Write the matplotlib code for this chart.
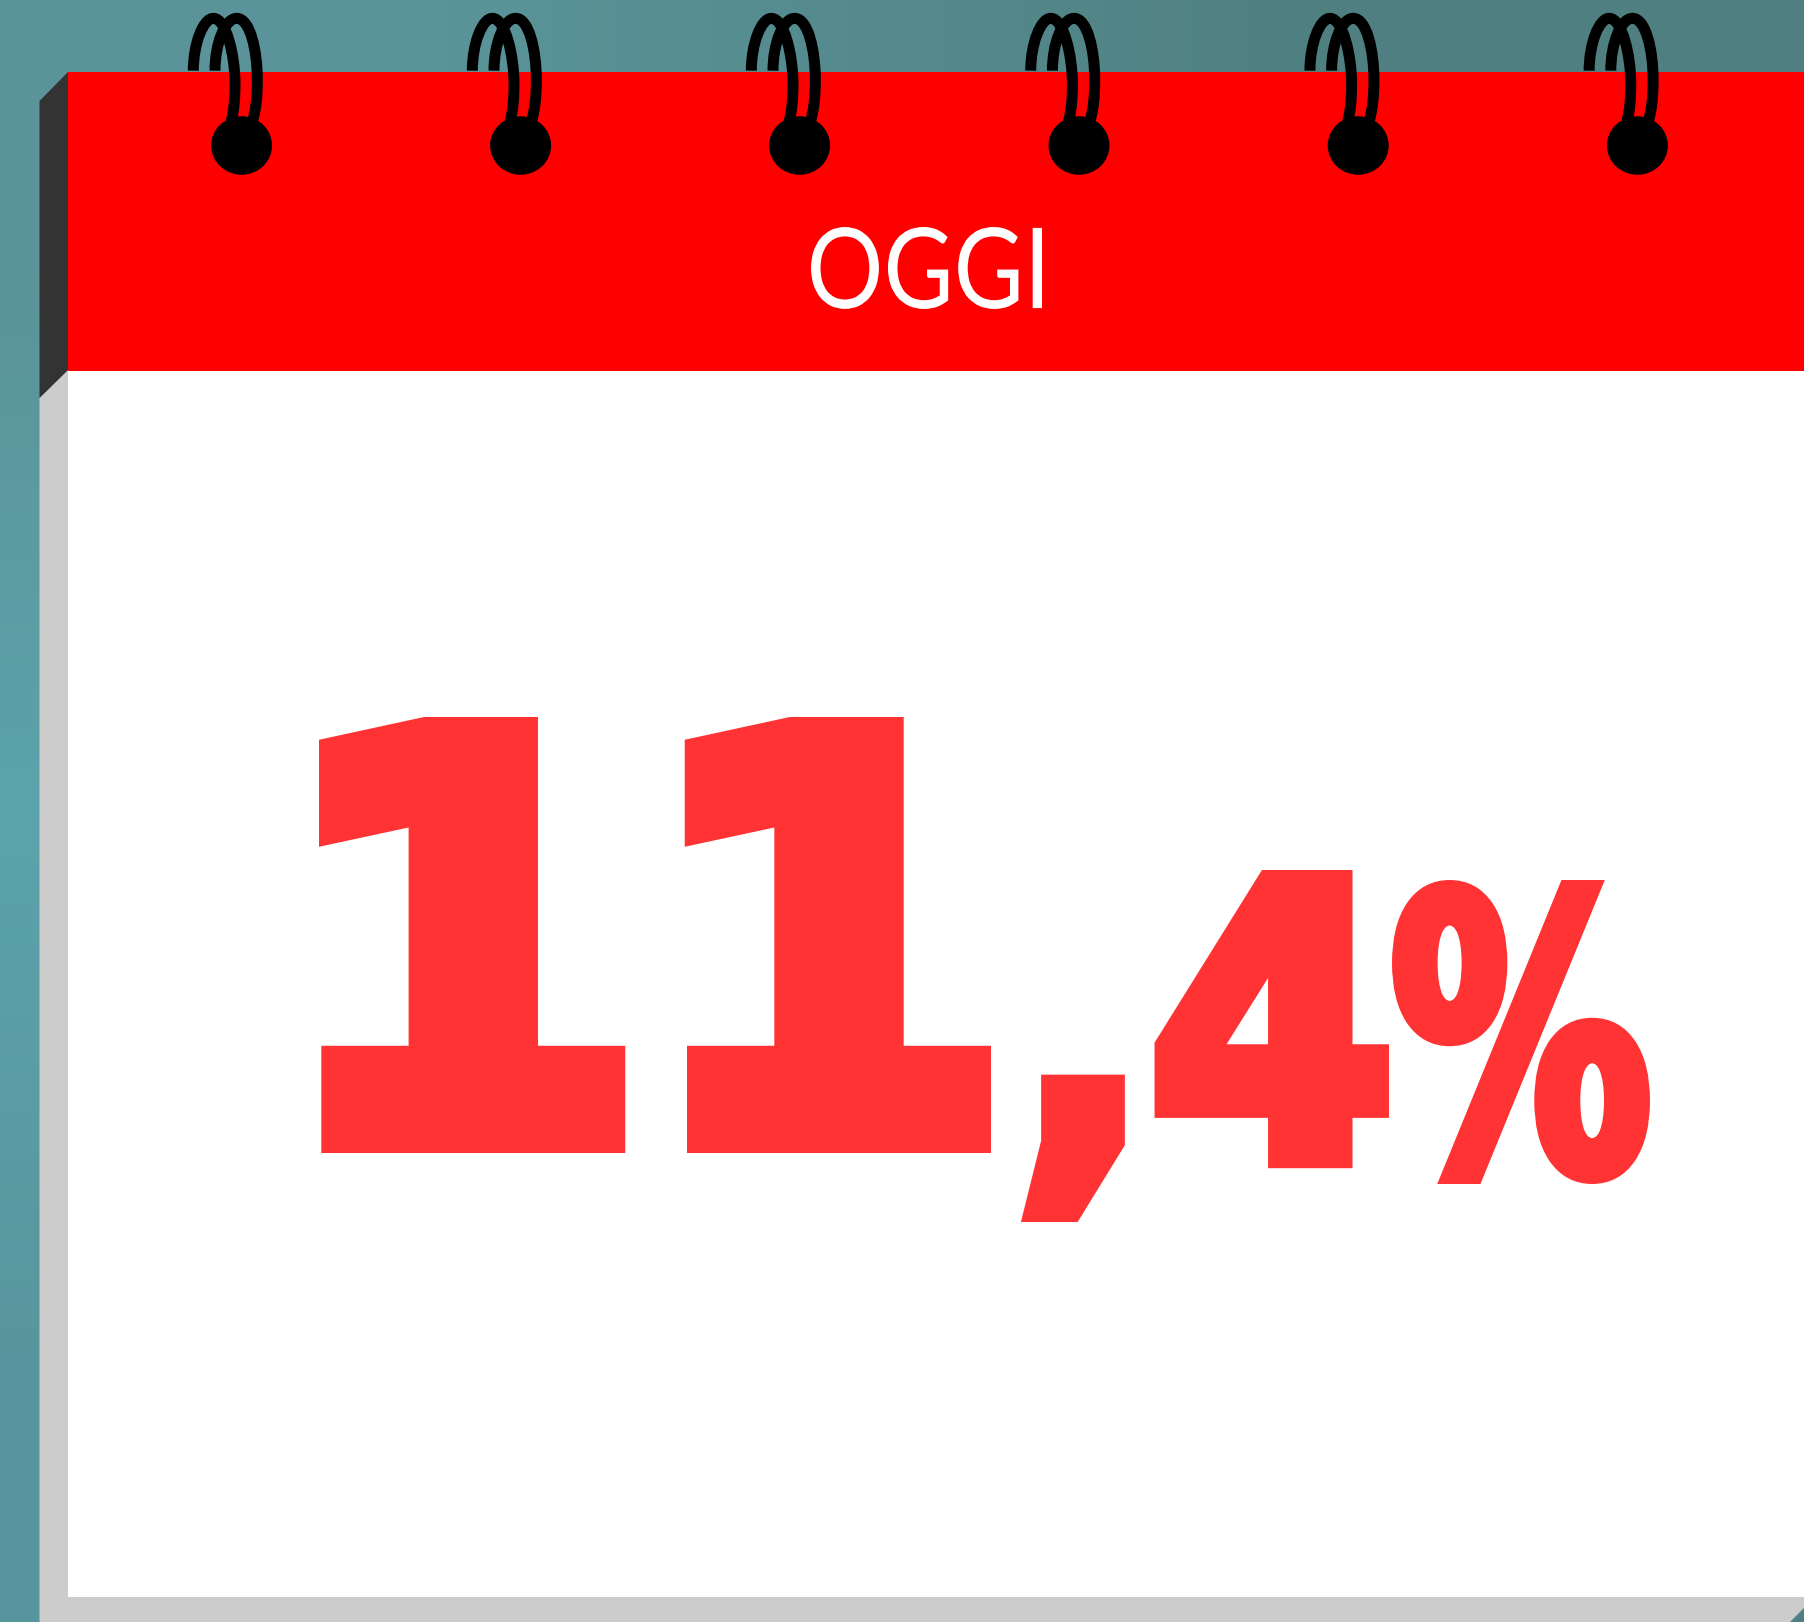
import matplotlib
matplotlib.use("Agg")
import numpy as np
import matplotlib.pyplot as plt
from matplotlib.font_manager import FontProperties
from matplotlib.patches import Polygon, Rectangle, Ellipse, PathPatch
from matplotlib.path import Path
from matplotlib.patheffects import AbstractPathEffect
from matplotlib.textpath import TextPath
from matplotlib.transforms import Affine2D

# ---- content
title_text = "OGGI"
value_int = "11"
value_dec = ",4"
value_unit = "%"
ring_x = [241.6, 520.6, 799.6, 1079.0, 1358.2, 1637.4]

W, H = 1804, 1622
fig = plt.figure(figsize=(W / 100, H / 100), dpi=100)
ax = fig.add_axes([0, 0, 1, 1])
ax.set_xlim(0, W)
ax.set_ylim(H, 0)
ax.axis("off")

# background gradient
corners = np.array([[[0.353, 0.580, 0.600], [0.310, 0.500, 0.502]],
                    [[0.360, 0.640, 0.670], [0.310, 0.500, 0.510]],
                    [[0.345, 0.590, 0.620], [0.310, 0.500, 0.510]]])
ax.imshow(corners, extent=[0, W, H, 0], interpolation="bilinear", aspect="auto", zorder=0)
ax.set_xlim(0, W)
ax.set_ylim(H, 0)

# sheet
ax.add_patch(Polygon([[39.5, 398], [68, 370], [68, 1597], [W, 1597], [W, 1608], [1790, 1622], [39.5, 1622]],
                     closed=True, fc="#cccccc", ec="none", zorder=1))
ax.add_patch(Polygon([[39.5, 101], [68, 72], [68, 370], [39.5, 398]], closed=True, fc="#333333", ec="none", zorder=1))
ax.add_patch(Rectangle((68, 370.5), W - 68, 1597 - 370.5, fc="white", ec="none", zorder=1))
ax.add_patch(Rectangle((68, 72), W - 68, 298.5, fc="#ff0000", ec="none", zorder=1))

# rings
C = Path.CURVE4
def loop(x, verts):
    v = np.array(verts, float) / 3.0
    v[:, 0] += x - 241.6
    codes = [Path.MOVETO] + [C] * (len(v) - 1)
    ax.add_patch(PathPatch(Path(v, codes), fc="none", ec="black", lw=7.9, capstyle="butt", zorder=3))

loop_a = [(580, 212), (580, 130), (610, 55), (640, 55), (680, 55), (705, 170), (705, 250), (705, 290), (703, 330), (693, 365)]
loop_b = [(645, 212), (645, 130), (675, 55), (710, 55), (750, 55), (772, 150), (772, 240), (772, 290), (768, 330), (757, 365)]
for x in ring_x:
    ax.add_patch(Ellipse((x, 145.5), 61, 58.5, fc="black", ec="none", zorder=3))
    loop(x, loop_a)
    loop(x, loop_b)

# text fitted to ink boxes, with an optional outline that makes it heavier
class Stretch(AbstractPathEffect):
    def __init__(self, x, sx, stroke_px=0):
        super().__init__()
        self.x, self.sx, self.stroke_px = x, sx, stroke_px
    def draw_path(self, renderer, gc, tpath, affine, rgbFace=None):
        t = affine + Affine2D().translate(-self.x, 0).scale(self.sx, 1).translate(self.x, 0)
        g = renderer.new_gc()
        g.copy_properties(gc)
        g.set_linewidth(self.stroke_px * 0.72)
        g.set_foreground(rgbFace)
        g.set_joinstyle("miter")
        renderer.draw_path(g, tpath, t, rgbFace)
        g.restore()

def fit(s, x0, x1, ytop, ybot, color, stroke=0, **font):
    fp = FontProperties(**font)
    x0, x1, ytop, ybot = x0 + stroke / 2, x1 - stroke / 2, ytop + stroke / 2, ybot - stroke / 2
    bb = TextPath((0, 0), s, size=100, prop=fp).get_extents()
    k = (ybot - ytop) / bb.height            # px per path unit
    size = 100 * k * 72 / 100
    sx = (x1 - x0) / (bb.width * k)
    base = ybot + bb.y0 * k
    ox = x0 - bb.x0 * k * sx
    t = ax.text(ox, base, s, fontproperties=fp, fontsize=size, color=color, ha="left", va="baseline", zorder=4)
    t.set_path_effects([Stretch(ox, sx, stroke)])
    return t

RED = "#ff3333"
fit(title_text, 811, 1042, 227, 309, "white", family="Lato")
fit(value_int, 319, 991, 717, 1153, RED, stroke=36, family="DejaVu Sans", weight="bold")
fit(value_dec, 1024, 1389, 870, 1222, RED, stroke=22, family="DejaVu Sans", weight="bold")
fit(value_unit, 1392, 1650, 880, 1184, RED, stroke=14, family="DejaVu Sans", weight="bold")

fig.savefig("out.png", dpi=100)
